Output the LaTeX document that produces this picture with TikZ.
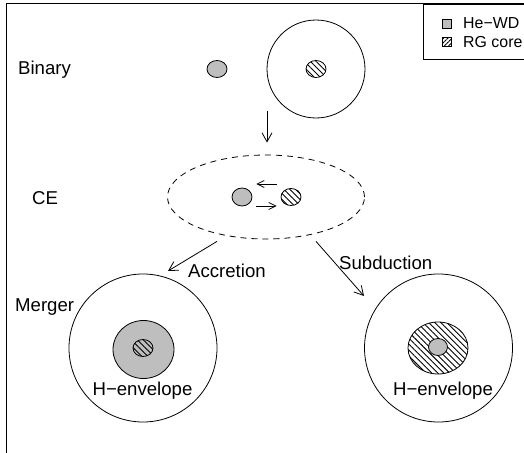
\documentclass[tikz,border=0pt]{standalone}
\usepackage{fontspec}
\setmainfont{Liberation Sans}
\usepackage{tikz}
\usetikzlibrary{arrows.meta,shapes.geometric,patterns.meta}
\definecolor{wdgray}{RGB}{190,190,190}

\begin{document}
\begin{tikzpicture}[
  x=1pt,y=-1pt,
  >={Straight Barb[length=9pt,width=10pt]},
  lab/.style={font=\fontsize{18.6}{22}\selectfont,inner sep=0pt},
  leglab/.style={font=\fontsize{15.9}{19}\selectfont,inner sep=0pt,anchor=base west},
  wd/.style={ellipse,draw,line width=0.8pt,fill=wdgray,inner sep=0pt,minimum width=20pt,minimum height=17pt},
  core/.style={ellipse,draw,line width=0.8pt,inner sep=0pt,minimum width=20pt,minimum height=17pt,pattern={Lines[angle=-45,distance=4.2pt,line width=0.9pt]}},
  star/.style={circle,draw,line width=0.8pt,inner sep=0pt,minimum size=148pt},
  ar/.style={->,line width=0.8pt},
  smallar/.style={->,>={Straight Barb[length=7pt,width=7pt]},line width=0.8pt}
]
\useasboundingbox (0,0) rectangle (524,452);

% FRAME and LEGEND
\draw[line width=1pt] (6,470) -- (6,4) -- (540,4);
\draw[line width=0.8pt] (423,4) rectangle (540,59);
\node[draw,line width=0.7pt,fill=wdgray,inner sep=0pt,minimum size=9pt] (keywd) at (447,24) {};
\node[leglab] (keywdlab) at (463,28.7) {He−WD};
\node[draw,line width=0.7pt,inner sep=0pt,minimum size=9pt,pattern={Lines[angle=45,distance=3pt,line width=0.9pt]}] (keycore) at (447,42) {};
\node[leglab] (keycorelab) at (463,47.7) {RG core};

% TOP: the binary
\node[lab,anchor=base west] (binlab) at (18,74.5) {Binary};
\node[wd] (binwd) at (217,69) {};
\node[star,minimum size=98pt] (binstar) at (316,69) {};
\node[core] (bincore) at (316,69) {};

% MIDDLE: common envelope
\node[lab,anchor=base west] (celab) at (32,204.5) {CE};
\node[ellipse,draw,line width=0.8pt,dash pattern=on 6pt off 5pt,minimum width=197pt,minimum height=84pt] (ce) at (266,197) {};
\node[wd,minimum height=18pt] (cewd) at (242,197) {};
\node[core] (cecore) at (291,197) {};

\draw[ar] ([shift={(1,-44)}]ce.north) -- ([shift={(1,-12)}]ce.north);
\draw[smallar] ([shift={(-4,-13)}]cecore.west) -- ([shift={(4,-13)}]cewd.east);
\draw[smallar] ([shift={(4,9)}]cewd.east) -- ([shift={(-4,9)}]cecore.west);

% BOTTOM LEFT: merger
\node[lab,anchor=base west] (mergelab) at (15,311) {Merger};
\node[star] (merger) at (143,348) {};
\node[wd,minimum width=61pt,minimum height=58pt] (mergeenv) at (143.5,349.5) {};
\node[core] (mergecore) at (143,348) {};
\node[lab,anchor=base] (mergeenvlab) at (142.5,395.5) {H−envelope};

% BOTTOM RIGHT: subduction
\node[star] (subd) at (438.5,348) {};
\node[core,minimum width=60pt,minimum height=52pt] (subdcore) at (438,348) {};
\node[wd,minimum width=19pt] (subdwd) at (438,347) {};
\node[lab,anchor=base] (subdenvlab) at (443,395.5) {H−envelope};

\draw[ar] ([shift={(-49,2)}]ce.south) -- ([shift={(25,-77)}]merger.center);
\node[lab,anchor=base west] (acclab) at (188,277.5) {Accretion};
\draw[ar] ([shift={(50,2)}]ce.south) -- ([shift={(-74.5,-52)}]subd.center);
\node[lab,anchor=base west] (subdlab) at (339,269.5) {Subduction};

\end{tikzpicture}
\end{document}
